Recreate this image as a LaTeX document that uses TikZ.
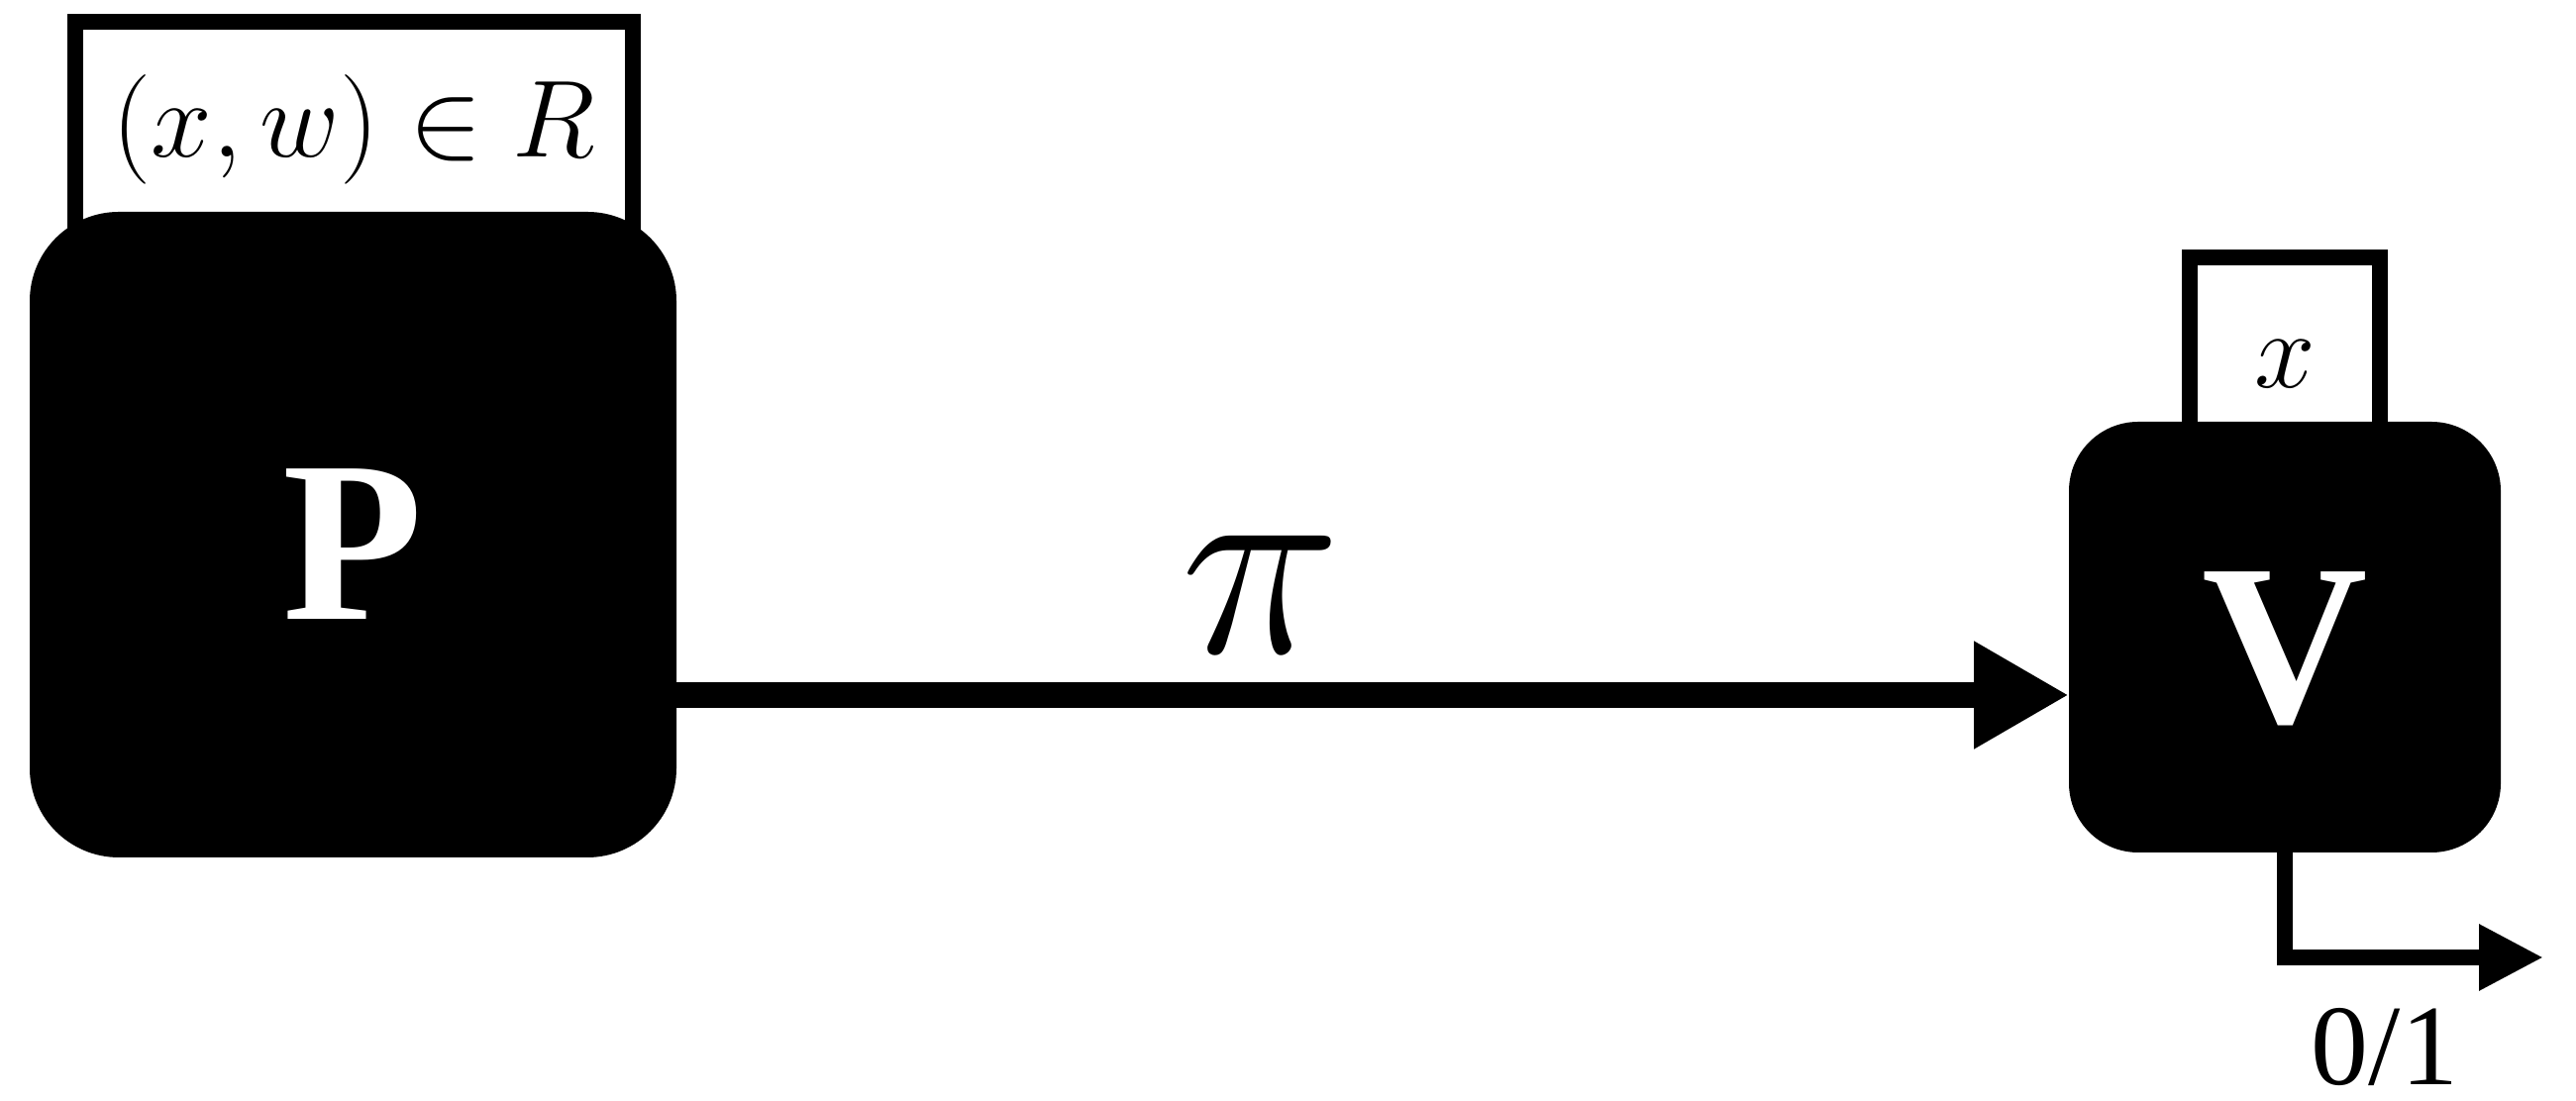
\RequirePackage{fix-cm}
\documentclass[tikz,border=0pt]{standalone}
\usepackage{fontspec}
\setmainfont{Liberation Serif}
\usetikzlibrary{arrows.meta,positioning,calc,backgrounds}

\begin{document}
\begin{tikzpicture}[every node/.style={inner sep=0pt,outer sep=0pt},
 party/.style={fill=black,text=white,rounded corners=#1,text height=17.2mm,text depth=0pt,
   font=\fontsize{66}{70}\selectfont\bfseries},
 tag/.style={draw,line width=4.5pt,fill=white},
 big/.style={font=\fontsize{#1}{#1}\selectfont}]
\useasboundingbox (0,0) rectangle (26.01,11.12);
% prover and verifier
\node[party=9mm,minimum width=6.53cm,minimum height=6.52cm] (P) at (3.565,5.72) {P};
\node[party=7mm,minimum width=4.36cm,minimum height=4.35cm] (V) at (23.07,4.685) {V};
\begin{scope}[on background layer]
 \node[tag,minimum width=5.63cm,minimum height=2.9cm,anchor=north] (Pin) at (3.575,10.90) {};
 \node[tag,minimum width=1.92cm,minimum height=2.0cm,anchor=north] (Vin) at (23.07,8.52) {};
\end{scope}
\node[big=31.5] (rel) at (Pin.center |- 0,9.81) {$(x,w)\in R$};
\node[big=31.5] (inst) at (Vin.center |- 0,7.44) {$x$};
% proof
\draw[-{Triangle[length=9.6mm,width=10.2mm]},line width=7.5pt]
  ([yshift=-5.85mm]V.west -| P.east) -- node[pos=0.42,above=4.2mm,big=78] (proof) {$\pi$} ([yshift=-5.85mm]V.west);
% verdict
\coordinate (out) at (25.68,1.45);
\draw[-{Triangle[length=6.5mm,width=6.3mm]},line width=4.4pt] (V.south) |- (out);
\node[big=33] (bit) at (24.08,0.54) {0/1};
\end{tikzpicture}
\end{document}
